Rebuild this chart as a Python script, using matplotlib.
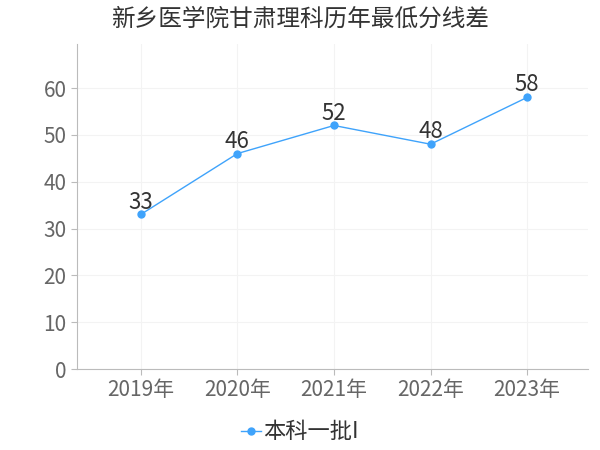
import matplotlib
matplotlib.use('Agg')
import matplotlib.pyplot as plt

plt.rcParams['font.family'] = ['Noto Sans CJK SC', 'DejaVu Sans']

anos = ['2019年', '2020年', '2021年', '2022年', '2023年']
diferencas = [33, 46, 52, 48, 58]
serie = '本科一批I'

fig = plt.figure(figsize=(6, 4.5), dpi=100)
ax = fig.add_axes([77 / 600, 1 - 369 / 450, (588 - 77) / 600, (369 - 44) / 450])

x = list(range(len(anos)))
ax.plot(x, diferencas, color='#3fa3fb', linewidth=1, marker='o', markersize=5, label=serie)
for xi, v in zip(x, diferencas):
    ax.text(xi, v + 0.2, str(v), ha='center', va='bottom', fontsize=16, color='#333333')

ax.set_xlim(-0.66, 4.63)
ax.set_ylim(0, 69.4)
ax.set_xticks(x)
ax.set_xticklabels(anos)
ax.set_yticks(range(0, 61, 10))
ax.tick_params(colors='#bbbbbb', labelcolor='#666666', labelsize=15, length=4)
ax.grid(True, color='#f3f3f3', linewidth=0.8)
ax.set_axisbelow(True)
for lado in ['top', 'right']:
    ax.spines[lado].set_visible(False)
for lado in ['left', 'bottom']:
    ax.spines[lado].set_color('#bbbbbb')

fig.text(0.5, 1 - 19 / 450, '新乡医学院甘肃理科历年最低分线差', ha='center', va='center',
         fontsize=17, color='#333333')
fig.legend(loc='center', bbox_to_anchor=(0.5, 1 - 432 / 450), frameon=False, fontsize=16,
           handlelength=0.9, handletextpad=0.1, labelcolor='#333333')

fig.savefig('out.png')
